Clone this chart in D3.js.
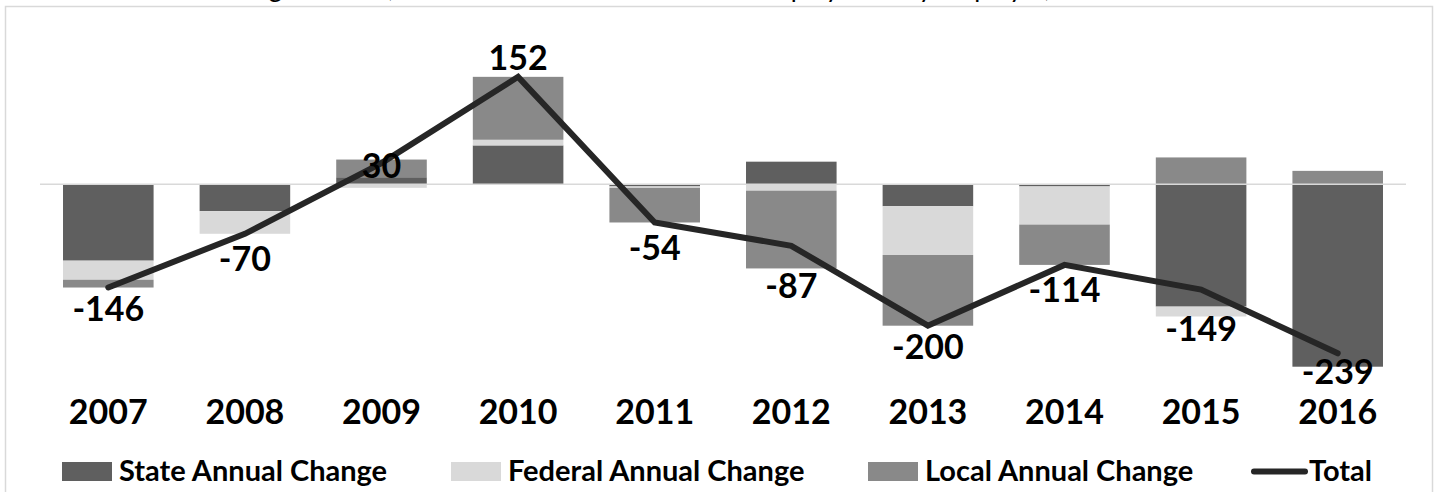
<!DOCTYPE html>
<html>
<head>
<meta charset="utf-8">
<script src="https://cdn.jsdelivr.net/npm/d3@7"></script>
<style>
  body { margin: 0; background: #fff; }
  text { font-family: Lato, "Open Sans", sans-serif; }
</style>
</head>
<body>
<div id="chart"></div>
<script>
// chart data
var years = ["2007", "2008", "2009", "2010", "2011", "2012", "2013", "2014", "2015", "2016"];
var stateChange = [-108, -38, 10, 55, -3, 32, -31, -3, -173, -258];
var federalChange = [-27, -32, -5, 8, -2, -9, -69, -54, -14, 0];
var localChange = [-11, 0, 25, 89, -49, -110, -100, -57, 38, 19];
var totals = [-146, -70, 30, 152, -54, -87, -200, -114, -149, -239];
var seriesNames = ["State Annual Change", "Federal Annual Change", "Local Annual Change", "Total"];

// layout
var W = 1439, H = 492;
var plot = {left: 40, right: 1406, zero: 184.3, pxPerUnit: 0.707};
var colors = {state: "#5f5f5f", federal: "#d9d9d9", local: "#898989", total: "#262626"};
// manual label nudges (from point to text centre), like the hand-placed ones in the original
var labelNudge = [21, 25, 3, -19, 26, 40, 21, 25, 39, 19];

var svg = d3.select("#chart").append("svg")
    .attr("width", W)
    .attr("height", H);

// title, mostly cut off at the top edge
svg.append("text")
    .attr("x", 655)
    .attr("y", -3)
    .attr("text-anchor", "middle")
    .style("font-size", "26px")
    .text("Annual Change in State, Federal and Local Government Employment by Employer, 2007-2016");

// outer frame
svg.append("rect")
    .attr("x", 5.5).attr("y", 6.5)
    .attr("width", 1427).attr("height", 500)
    .attr("fill", "none")
    .attr("stroke", "#d9d9d9")
    .attr("stroke-width", 1.5);

var rows = years.map(function(yr, i) {
    return {year: yr, state: stateChange[i], federal: federalChange[i], local: localChange[i], total: totals[i]};
});

var x = d3.scaleBand()
    .domain(years)
    .range([plot.left, plot.right])
    .paddingInner(0.337)
    .paddingOuter(0.1685);

var y = d3.scaleLinear()
    .domain([-300, 200])
    .range([plot.zero + 300 * plot.pxPerUnit, plot.zero - 200 * plot.pxPerUnit]);

var stack = d3.stack()
    .keys(["state", "federal", "local"])
    .offset(d3.stackOffsetDiverging);
var layers = stack(rows);

svg.append("g")
  .selectAll("g")
  .data(layers)
  .enter()
  .append("g")
    .attr("fill", function(d) { return colors[d.key]; })
  .selectAll("rect")
  .data(function(d) { return d; })
  .enter()
  .append("rect")
    .attr("x", function(d) { return x(d.data.year); })
    .attr("width", x.bandwidth())
    .attr("y", function(d) { return y(Math.max(d[0], d[1])); })
    .attr("height", function(d) { return Math.abs(y(d[0]) - y(d[1])); });

// zero line
svg.append("line")
    .attr("x1", plot.left).attr("x2", plot.right)
    .attr("y1", y(0)).attr("y2", y(0))
    .attr("stroke", "#d9d9d9")
    .attr("stroke-width", 1.5);

// total line
var line = d3.line()
    .x(function(d) { return x(d.year) + x.bandwidth() / 2; })
    .y(function(d) { return y(d.total); });

svg.append("path")
    .datum(rows)
    .attr("d", line)
    .attr("fill", "none")
    .attr("stroke", colors.total)
    .attr("stroke-width", 6)
    .attr("stroke-linecap", "round");

// data labels
svg.append("g")
  .selectAll("text")
  .data(rows)
  .enter()
  .append("text")
    .attr("x", function(d) { return x(d.year) + x.bandwidth() / 2; })
    .attr("y", function(d, i) { return y(d.total) + labelNudge[i] + 12; })
    .attr("text-anchor", "middle")
    .style("font-size", "34px")
    .style("font-weight", "bold")
    .text(function(d) { return d.total; });

// category labels
svg.append("g")
  .selectAll("text")
  .data(years)
  .enter()
  .append("text")
    .attr("x", function(d) { return x(d) + x.bandwidth() / 2; })
    .attr("y", 424)
    .attr("text-anchor", "middle")
    .style("font-size", "34px")
    .style("font-weight", "bold")
    .text(function(d) { return d; });

// legend
var legendX = [62, 451, 868, 1253];
var legend = svg.append("g")
  .selectAll("g")
  .data(seriesNames)
  .enter()
  .append("g")
    .attr("transform", function(d, i) { return "translate(" + legendX[i] + ",0)"; });

legend.filter(function(d, i) { return i < 3; })
  .append("rect")
    .attr("y", 462)
    .attr("width", 50)
    .attr("height", 19)
    .attr("fill", function(d, i) { return [colors.state, colors.federal, colors.local][i]; });

legend.filter(function(d, i) { return i === 3; })
  .append("line")
    .attr("x1", 1).attr("x2", 52)
    .attr("y1", 471.5).attr("y2", 471.5)
    .attr("stroke", colors.total)
    .attr("stroke-width", 6)
    .attr("stroke-linecap", "round");

legend.append("text")
    .attr("x", function(d, i) { return i < 3 ? 57 : 56; })
    .attr("y", 481)
    .style("font-size", "29px")
    .style("font-weight", "bold")
    .text(function(d) { return d; });
</script>
</body>
</html>
